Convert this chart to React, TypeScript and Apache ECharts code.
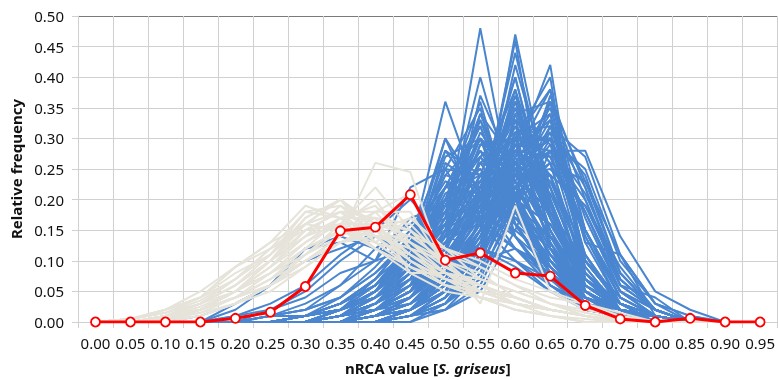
import React, { useEffect, useRef } from "react";
import * as echarts from "echarts";

const categories = ["0.00","0.05","0.10","0.15","0.20","0.25","0.30","0.35","0.40","0.45","0.50","0.55","0.60","0.65","0.70","0.75","0.80","0.85","0.90","0.95"];
const xTickLabels = ["0.00","0.05","0.10","0.15","0.20","0.25","0.30","0.35","0.40","0.45","0.50","0.55","0.60","0.65","0.70","0.75","0.00","0.85","0.90","0.95"];
const yTicks = [0, 0.05, 0.1, 0.15, 0.2, 0.25, 0.3, 0.35, 0.4, 0.45, 0.5];

const observed = [0,0,0,0,.006,.016,.058,.149,.155,.208,.101,.113,.08,.075,.027,.005,0,.006,0,0];

const blueRuns: number[][] = [
  [0,0,0, 0,0,0,0,.01,.02,.05,.15,.48,.18,.08,.02,.01,0,0, 0,0],
  [0,0,0, 0,0,0,0,0,.01,.03,.08,.15,.47,.2,.05,.01,0,0, 0,0],
  [0,0,0, 0,0,0,0,.01,.02,.04,.1,.18,.46,.12,.05,.02,0,0, 0,0],
  [0,0,0, 0,0,0,0,0,0,.02,.06,.14,.27,.42,.07,.02,0,0, 0,0],
  [0,0,0, 0,0,0,.01,.03,.06,.12,.36,.2,.12,.06,.03,.01,0,0, 0,0],
  [0,0,0, 0,0,0,0,.01,.03,.08,.17,.4,.2,.08,.02,.01,0,0, 0,0],
  [0,0,0, 0,0,0,.01,.02,.04,.09,.2,.36,.16,.07,.03,.02,0,0, 0,0],
  [0,0,0, 0,0,0,0,0,.02,.04,.1,.2,.4,.17,.05,.02,0,0, 0,0],
  [0,0,0, 0,0,.01,.01,.03,.06,.1,.3,.17,.15,.1,.05,.02,0,0, 0,0],
  [0,0,0, 0,0,0,0,0,.01,.02,.05,.15,.3,.4,.05,.02,0,0, 0,0],
  [0,0,0, 0,0,0,0,0,0,.02,.08,.12,.3,.38,.08,.02,0,0, 0,0],
  [0,0,0, 0,0,0,0,0,0,0,.03,.08,.18,.36,.23,.11,.01,0, 0,0],
  [0,0,0, 0,0,0,0,0,0,.01,.03,.1,.25,.34,.13,.11,.03,0, 0,0],
  [0,0,0, 0,0,0,0,0,0,.01,.04,.12,.25,.3,.18,.06,.04,0, 0,0],
  [0,0,0, 0,.03,.06,.12,.14,.12,.1,.08,.1,.12,.08,.04,.01,0,0, 0,0],
  [0,0,0, 0,.01,.03,.06,.11,.15,.2,.14,.12,.09,.05,.03,.01,0,0, 0,0],
  [0,0,0, .01,.03,.06,.12,.13,.1,.12,.1,.12,.1,.07,.03,.01,0,0, 0,0],
  [0,0,0, 0,0,.01,.02,.06,.1,.22,.25,.16,.1,.05,.02,.01,0,0, 0,0],
  [0,0,0, 0,0,0,.01,.03,.07,.14,.28,.24,.14,.06,.02,.01,0,0, 0,0],
  [0,0,0, 0,0,0,0,.02,.05,.1,.2,.32,.18,.08,.04,.01,0,0, 0,0],
  [0,0,0, 0,0,0,0,.01,.04,.08,.16,.3,.25,.1,.04,.02,0,0, 0,0],
  [0,0,0, 0,0,0,0,.01,.03,.06,.14,.26,.3,.14,.04,.02,0,0, 0,0],
  [0,0,0, 0,0,0,0,0,.02,.05,.12,.22,.34,.18,.05,.02,0,0, 0,0],
  [0,0,0, 0,0,0,0,0,.01,.04,.1,.2,.36,.2,.06,.03,0,0, 0,0],
  [0,0,0, 0,0,0,0,0,.01,.03,.08,.18,.33,.26,.08,.02,.01,0, 0,0],
  [0,0,0, 0,0,0,0,0,.01,.02,.07,.15,.3,.3,.1,.03,.01,0, 0,0],
  [0,0,0, 0,0,0,0,0,0,.02,.06,.14,.28,.33,.13,.03,.01,0, 0,0],
  [0,0,0, 0,0,0,0,0,0,.01,.05,.12,.26,.35,.15,.05,.01,0, 0,0],
  [0,0,0, 0,0,0,0,0,0,.01,.04,.1,.22,.32,.22,.07,.02,0, 0,0],
  [0,0,0, 0,0,0,0,0,.01,.02,.05,.12,.24,.28,.2,.06,.02,0, 0,0],
  [0,0,0, 0,0,0,0,.01,.02,.05,.1,.18,.28,.24,.09,.02,.01,0, 0,0],
  [0,0,0, 0,0,0,.01,.02,.04,.07,.14,.24,.26,.15,.05,.02,0,0, 0,0],
  [0,0,0, 0,0,0,0,.01,.03,.08,.18,.28,.22,.13,.05,.02,0,0, 0,0],
  [0,0,0, 0,0,0,.01,.02,.05,.1,.22,.27,.19,.09,.04,.01,0,0, 0,0],
  [0,0,0, 0,0,0,.01,.03,.06,.13,.25,.24,.16,.08,.03,.01,0,0, 0,0],
  [0,0,0, 0,0,0,0,.02,.05,.11,.24,.3,.16,.08,.03,.01,0,0, 0,0],
  [0,0,0, 0,0,0,0,.01,.02,.06,.12,.22,.32,.17,.06,.02,0,0, 0,0],
  [0,0,0, 0,0,0,0,0,.02,.04,.09,.19,.38,.2,.06,.02,0,0, 0,0],
  [0,0,0, 0,0,0,0,0,.01,.03,.07,.16,.42,.22,.07,.02,0,0, 0,0],
  [0,0,0, 0,0,0,0,.01,.02,.03,.08,.2,.37,.19,.07,.03,0,0, 0,0],
  [0,0,0, 0,0,0,0,0,0,.01,.03,.09,.2,.37,.22,.06,.02,0, 0,0],
  [0,0,0, 0,0,0,0,0,0,.01,.02,.08,.24,.36,.2,.07,.02,0, 0,0],
  [0,0,0, 0,0,0,0,0,.01,.02,.06,.13,.3,.34,.1,.03,.01,0, 0,0],
  [0,0,0, 0,0,0,0,0,0,.01,.04,.1,.34,.36,.1,.04,.01,0, 0,0],
  [0,0,0, 0,0,0,0,0,.01,.02,.05,.11,.29,.3,.15,.05,.02,0, 0,0],
  [0,0,0, 0,0,0,0,0,0,.01,.03,.07,.2,.3,.25,.1,.03,.01, 0,0],
  [0,0,0, 0,0,0,0,0,0,0,.02,.06,.18,.32,.27,.11,.03,.01, 0,0],
  [0,0,0, 0,0,0,0,0,0,.01,.02,.05,.15,.28,.28,.14,.05,.02, 0,0],
  [0,0,0, 0,0,0,.01,.02,.04,.09,.2,.18,.2,.16,.07,.02,.01,0, 0,0],
  [0,0,0, 0,0,0,0,.01,.03,.07,.16,.2,.24,.18,.08,.02,.01,0, 0,0],
  [0,0,0, 0,0,0,0,.01,.02,.05,.13,.17,.26,.22,.1,.03,.01,0, 0,0],
  [0,0,0, 0,0,0,0,0,.01,.04,.11,.19,.28,.23,.1,.03,.01,0, 0,0],
  [0,0,0, 0,0,0,0,0,.02,.05,.15,.26,.24,.18,.07,.02,.01,0, 0,0],
  [0,0,0, 0,0,0,0,.01,.03,.06,.2,.25,.2,.16,.06,.02,.01,0, 0,0],
  [0,0,0, 0,0,0,.01,.02,.04,.08,.26,.22,.2,.11,.04,.02,0,0, 0,0],
  [0,0,0, 0,0,0,0,.01,.04,.1,.28,.2,.17,.12,.05,.02,.01,0, 0,0],
  [0,0,0, 0,0,0,.01,.02,.05,.12,.3,.21,.14,.09,.04,.01,.01,0, 0,0],
  [0,0,0, 0,0,0,0,.01,.03,.09,.22,.33,.18,.09,.03,.01,.01,0, 0,0],
  [0,0,0, 0,0,0,0,0,.02,.05,.14,.34,.26,.13,.04,.01,.01,0, 0,0],
  [0,0,0, 0,0,0,0,0,.01,.04,.12,.37,.24,.14,.05,.02,.01,0, 0,0],
  [0,0,0, 0,0,0,0,0,.01,.03,.09,.22,.4,.18,.05,.01,.01,0, 0,0],
  [0,0,0, 0,0,0,0,0,0,.02,.07,.2,.44,.2,.05,.01,.01,0, 0,0],
  [0,0,0, 0,0,0,0,0,0,.01,.05,.17,.33,.29,.11,.03,.01,0, 0,0],
  [0,0,0, 0,0,0,0,0,0,.01,.04,.13,.31,.32,.14,.04,.01,0, 0,0],
  [0,0,0, 0,0,0,0,0,0,.01,.03,.11,.27,.38,.15,.04,.01,0, 0,0],
  [0,0,0, 0,0,0,0,0,.01,.02,.06,.15,.28,.27,.15,.05,.01,0, 0,0],
  [0,0,0, 0,0,0,0,0,0,.02,.05,.14,.24,.25,.19,.09,.02,0, 0,0],
  [0,0,0, 0,0,.01,.02,.04,.08,.14,.2,.23,.16,.08,.03,.01,0,0, 0,0],
  [0,0,0, 0,0,0,.01,.02,.07,.14,.18,.26,.18,.1,.03,.01,0,0, 0,0],
  [0,0,0, 0,0,0,0,.01,.05,.12,.2,.3,.19,.09,.03,.01,0,0, 0,0],
  [0,0,0, 0,.01,.02,.05,.1,.14,.11,.14,.16,.12,.09,.04,.02,0,0, 0,0],
  [0,0,0, 0,0,.02,.04,.08,.1,.17,.19,.17,.12,.07,.03,.01,0,0, 0,0],
  [0,0,0, 0,.02,.06,.1,.12,.14,.13,.12,.12,.1,.06,.02,.01,0,0, 0,0],
  [0,0,0, 0,0,.01,.03,.06,.12,.16,.2,.18,.14,.07,.02,.01,0,0, 0,0],
  [0,0,0, 0,0,0,.01,.04,.09,.15,.22,.21,.16,.08,.03,.01,0,0, 0,0],
  [0,0,0, 0,0,0,.01,.03,.06,.11,.19,.27,.2,.09,.03,.01,0,0, 0,0],
  [0,0,0, 0,0,0,0,.02,.05,.13,.22,.25,.19,.1,.03,.01,0,0, 0,0],
  [0,0,0, 0,0,0,0,.01,.04,.09,.17,.31,.23,.11,.03,.01,0,0, 0,0],
  [0,0,0, 0,0,0,0,.01,.03,.07,.15,.29,.27,.13,.04,.01,0,0, 0,0],
  [0,0,0, 0,0,0,0,0,.03,.08,.13,.23,.33,.15,.04,.01,0,0, 0,0],
  [0,0,0, 0,0,0,0,0,.02,.06,.12,.21,.35,.17,.05,.02,0,0, 0,0],
  [0,0,0, 0,0,0,0,0,.02,.05,.11,.19,.31,.24,.06,.02,0,0, 0,0],
  [0,0,0, 0,0,0,0,0,.01,.04,.09,.17,.29,.28,.09,.02,.01,0, 0,0],
  [0,0,0, 0,0,0,0,0,.01,.03,.08,.16,.27,.31,.11,.02,.01,0, 0,0],
  [0,0,0, 0,0,0,0,0,.01,.03,.07,.14,.25,.3,.15,.04,.01,0, 0,0],
  [0,0,0, 0,0,0,0,0,0,.02,.06,.13,.23,.33,.17,.05,.01,0, 0,0],
  [0,0,0, 0,0,0,0,0,0,.02,.05,.11,.22,.29,.21,.08,.02,0, 0,0],
  [0,0,0, 0,0,0,0,0,0,.01,.04,.09,.21,.31,.24,.08,.02,0, 0,0],
  [0,0,0, 0,0,0,0,.01,.02,.06,.14,.24,.29,.17,.05,.02,0,0, 0,0],
  [0,0,0, 0,0,0,.01,.02,.05,.1,.21,.24,.21,.11,.04,.01,0,0, 0,0],
  [0,0,0, 0,0,0,.01,.02,.05,.12,.24,.22,.19,.1,.04,.01,0,0, 0,0],
  [0,0,0, 0,0,0,.01,.03,.07,.14,.23,.2,.17,.1,.04,.01,0,0, 0,0],
  [0,0,0, 0,0,0,0,.02,.06,.12,.18,.22,.22,.12,.04,.02,0,0, 0,0],
  [0,0,0, 0,0,0,0,.01,.04,.1,.16,.21,.25,.15,.06,.02,0,0, 0,0],
  [0,0,0, 0,0,0,0,.01,.03,.08,.14,.2,.28,.17,.07,.02,0,0, 0,0],
  [0,0,0, 0,0,0,0,.01,.02,.07,.12,.2,.26,.21,.08,.03,0,0, 0,0],
  [0,0,0, 0,0,0,0,.01,.02,.06,.1,.18,.24,.24,.11,.03,.01,0, 0,0],
  [0,0,0, 0,0,0,0,0,.02,.05,.09,.16,.22,.26,.15,.04,.01,0, 0,0],
  [0,0,0, 0,0,0,0,0,.01,.04,.08,.15,.2,.24,.19,.07,.02,0, 0,0],
  [0,0,0, 0,0,0,.01,.02,.05,.09,.13,.17,.21,.18,.1,.03,.01,0, 0,0],
  [0,0,0, 0,0,.01,.01,.03,.06,.11,.15,.19,.19,.14,.07,.03,.01,0, 0,0],
  [0,0,0, 0,0,0,.01,.03,.07,.12,.16,.18,.17,.14,.08,.03,.01,0, 0,0],
  [0,0,0, 0,0,0,0,.02,.06,.13,.19,.2,.17,.12,.07,.03,.01,0, 0,0],
  [0,0,0, 0,0,.01,.02,.04,.08,.13,.17,.19,.16,.11,.06,.02,.01,0, 0,0],
  [0,0,0, 0,0,0,.01,.03,.06,.1,.2,.28,.18,.1,.03,.01,0,0, 0,0],
  [0,0,0, 0,0,0,0,.02,.04,.09,.18,.33,.21,.09,.03,.01,0,0, 0,0],
  [0,0,0, 0,0,0,0,.01,.03,.07,.16,.26,.31,.12,.03,.01,0,0, 0,0],
  [0,0,0, 0,0,0,0,.01,.02,.05,.12,.24,.38,.13,.03,.01,0,0, 0,0],
  [0,0,0, 0,0,0,0,0,.02,.05,.1,.21,.36,.19,.05,.02,0,0, 0,0],
  [0,0,0, 0,0,0,0,0,.01,.04,.09,.19,.32,.26,.07,.02,0,0, 0,0],
  [0,0,0, 0,0,0,.01,.02,.05,.11,.22,.32,.16,.07,.03,.01,0,0, 0,0],
  [0,0,0, 0,0,0,0,.02,.04,.1,.25,.35,.14,.06,.03,.01,0,0, 0,0],
  [0,0,0, 0,0,0,0,.01,.03,.08,.19,.34,.2,.09,.04,.01,0,0, 0,0],
  [0,0,0, 0,0,0,.01,.02,.05,.1,.27,.3,.14,.07,.03,.01,0,0, 0,0],
  [0,0,0, 0,0,0,0,.01,.03,.07,.17,.3,.23,.12,.05,.02,0,0, 0,0],
  [0,0,0, 0,0,0,0,0,.01,.03,.07,.13,.22,.28,.18,.06,.02,0, 0,0],
  [0,0,0, 0,0,0,0,0,.01,.02,.06,.12,.2,.26,.23,.08,.02,0, 0,0],
  [0,0,0, 0,0,0,0,0,0,.02,.05,.12,.26,.3,.18,.05,.02,0, 0,0],
  [0,0,0, 0,0,0,0,0,.01,.03,.06,.15,.3,.27,.14,.03,.01,0, 0,0],
  [0,0,0, 0,0,0,0,.01,.02,.05,.11,.27,.33,.15,.04,.02,0,0, 0,0],
  [0,0,0, 0,0,0,0,.01,.03,.06,.14,.29,.3,.12,.03,.01,0,0, 0,0],
  [0,0,0, 0,0,0,0,0,.02,.04,.09,.2,.35,.22,.06,.02,0,0, 0,0],
];

const grayRuns: number[][] = [
  [0,0,.005,.01,.03,.06,.1,.14,.26,.245,.08,.04,.02,.01,0,0,0,0,0,0],
  [0,.005,.02,.04,.08,.11,.16,.2,.15,.1,.06,.04,.02,.01,0,0,0,0,0,0],
  [0,.005,.015,.035,.07,.12,.18,.19,.14,.09,.07,.04,.02,.01,.005,0,0,0,0,0],
  [0,0,.01,.03,.06,.1,.15,.18,.18,.12,.08,.05,.03,.01,0,0,0,0,0,0],
  [0,0,.01,.02,.05,.09,.14,.17,.17,.15,.09,.06,.03,.02,.01,0,0,0,0,0],
  [0,0,.005,.02,.04,.08,.13,.16,.16,.14,.1,.08,.04,.02,.01,0,0,0,0,0],
  [0,0,.01,.03,.06,.1,.17,.2,.15,.1,.07,.05,.03,.02,.01,0,0,0,0,0],
  [0,.005,.02,.04,.09,.13,.19,.17,.12,.08,.05,.04,.03,.02,.01,0,0,0,0,0],
  [0,0,.01,.03,.07,.12,.16,.18,.13,.11,.07,.05,.04,.02,.01,0,0,0,0,0],
  [0,0,.005,.015,.04,.07,.12,.15,.18,.18,.09,.06,.04,.02,.01,0,0,0,0,0],
  [0,0,.005,.02,.05,.08,.11,.14,.17,.16,.1,.05,.04,.02,.01,0,0,0,0,0],
  [0,0,.01,.02,.04,.06,.09,.13,.16,.15,.11,.09,.06,.04,.03,.01,0,0,0,0],
  [0,0,0,.01,.03,.05,.09,.13,.15,.13,.1,.03,.19,.05,.02,.01,0,0,0,0],
  [0,.005,.02,.05,.09,.12,.15,.16,.12,.09,.06,.05,.03,.02,.01,0,0,0,0,0],
  [0,0,.01,.025,.05,.09,.13,.17,.14,.13,.09,.06,.04,.02,.01,0,0,0,0,0],
  [0,0,.005,.02,.05,.08,.12,.15,.14,.12,.1,.07,.05,.03,.015,.005,0,0,0,0],
  [0,0,.01,.03,.05,.1,.14,.19,.16,.1,.07,.06,.04,.02,.01,0,0,0,0,0],
  [0,.005,.015,.03,.06,.1,.16,.18,.15,.11,.08,.06,.03,.02,.01,0,0,0,0,0],
  [0,0,.01,.02,.04,.07,.11,.15,.13,.17,.12,.07,.05,.03,.01,0,0,0,0,0],
  [0,0,0,.01,.03,.06,.1,.13,.14,.14,.12,.1,.07,.05,.03,.015,0,0,0,0],
  [0,.005,.02,.04,.07,.11,.17,.2,.13,.09,.06,.04,.03,.02,.01,0,0,0,0,0],
  [0,0,.01,.02,.05,.08,.12,.17,.19,.13,.08,.06,.04,.02,.01,0,0,0,0,0],
  [0,0,.01,.03,.06,.1,.14,.16,.2,.12,.07,.05,.03,.02,.01,0,0,0,0,0],
  [0,0,.005,.02,.04,.07,.1,.14,.18,.21,.09,.06,.04,.02,.01,0,0,0,0,0],
  [0,0,.01,.02,.05,.09,.15,.18,.17,.08,.08,.07,.05,.03,.01,0,0,0,0,0],
  [0,.005,.015,.04,.09,.13,.16,.15,.12,.09,.06,.05,.04,.02,.01,0,0,0,0,0],
  [0,0,.01,.03,.06,.11,.18,.17,.14,.1,.07,.05,.03,.02,.01,.005,0,0,0,0],
  [0,0,.005,.02,.05,.1,.16,.2,.16,.11,.07,.05,.03,.02,.01,0,0,0,0,0],
  [0,0,.01,.02,.04,.06,.11,.16,.22,.15,.09,.06,.04,.02,.01,0,0,0,0,0],
  [0,0,.005,.015,.03,.06,.1,.13,.15,.17,.12,.09,.06,.03,.02,.01,0,0,0,0],
];

const FONT = "'Noto Sans', 'Open Sans', sans-serif";
const BLUE = "#4a86d0";
const GRAY = "#e6e4da";
const RED = "#ff0000";
const GRID = "#d0d0d0";
const TEXT = "#111111";

export default function App() {
  const ref = useRef<HTMLDivElement>(null);
  useEffect(() => {
    if (!ref.current) return;
    const chart = echarts.init(ref.current, null, { renderer: "svg" });
    const series: any[] = [];
    blueRuns.forEach((d, i) => {
      series.push({
        type: "line", name: "b" + i, data: d, symbol: "none", silent: true,
        lineStyle: { color: BLUE, width: 2 }, z: 2,
      });
    });
    grayRuns.forEach((d, i) => {
      series.push({
        type: "line", name: "g" + i, data: d, symbol: "none", silent: true,
        lineStyle: { color: GRAY, width: 2 }, z: 3,
      });
    });
    series.push({
      type: "line", name: "observed", data: observed, symbol: "circle", symbolSize: 9,
      lineStyle: { color: RED, width: 3 },
      itemStyle: { color: "#ffffff", borderColor: RED, borderWidth: 1.8 },
      z: 5,
    });
    const splitColors = yTicks.map((_, i) => (i === yTicks.length - 1 ? "#7a7a7a" : GRID));
    chart.setOption({
      animation: false,
      grid: { left: 78, right: 0, top: 16, bottom: 58 },
      xAxis: {
        type: "category",
        data: categories,
        boundaryGap: true,
        name: "{b|nRCA value [}{i|S. griseus}{b|]}",
        nameLocation: "middle",
        nameGap: 38,
        nameTextStyle: {
          rich: {
            b: { fontFamily: FONT, fontSize: 15, fontWeight: "bold", color: TEXT },
            i: { fontFamily: FONT, fontSize: 15, fontWeight: "bold", fontStyle: "italic", color: TEXT },
          },
        },
        axisLine: { lineStyle: { color: GRID, width: 1 } },
        axisTick: { show: true, length: 6, inside: false, alignWithLabel: false, lineStyle: { color: GRID } },
        axisLabel: {
          interval: 0, margin: 13, fontFamily: FONT, fontSize: 15, color: TEXT,
          formatter: (_v: string, i: number) => xTickLabels[i],
        },
        splitLine: { show: true, interval: 0, lineStyle: { color: GRID, width: 1 } },
      },
      yAxis: {
        type: "value",
        min: 0, max: 0.5, interval: 0.05,
        name: "Relative frequency",
        nameLocation: "middle",
        nameGap: 52,
        nameTextStyle: { fontFamily: FONT, fontSize: 15, fontWeight: "bold", color: TEXT },
        axisLine: { show: true, lineStyle: { color: GRID } },
        axisTick: { show: true, length: 6, lineStyle: { color: GRID } },
        axisLabel: {
          margin: 14, fontFamily: FONT, fontSize: 15, color: TEXT,
          formatter: (v: number) => v.toFixed(2),
        },
        splitLine: { show: true, lineStyle: { color: splitColors, width: 1 } },
      },
      series,
    });
    return () => chart.dispose();
  }, []);
  return <div ref={ref} style={{ position: "fixed", left: 0, top: 0, width: 778, height: 380 }} />;
}
